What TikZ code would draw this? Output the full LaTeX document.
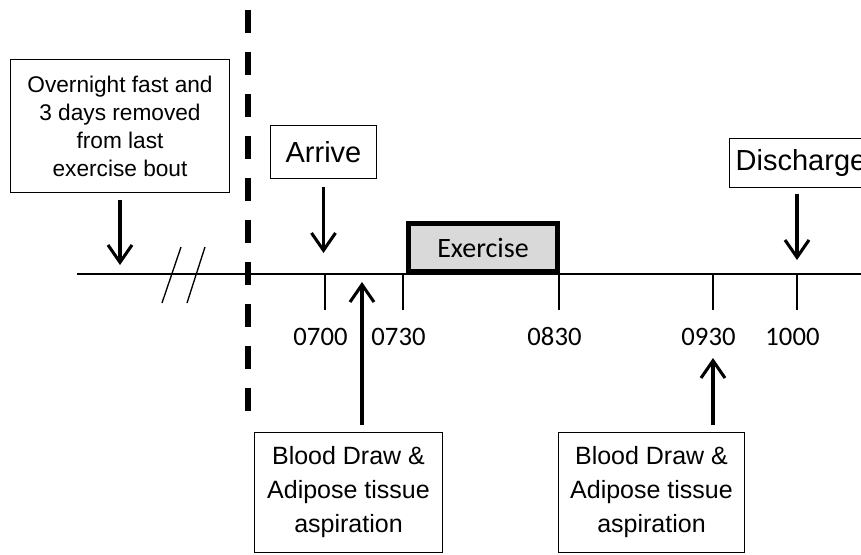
\documentclass[tikz,border=0pt]{standalone}
\usepackage{fontspec}
\setmainfont{Liberation Sans}
\newfontfamily\calfont{Carlito}
\usetikzlibrary{arrows.meta, positioning}

\begin{document}
\begin{tikzpicture}[x=0.75pt, y=-0.75pt,
		box/.style={draw, line width=1.1pt, align=center, inner sep=0pt},
		arr/.style={line width=2.3pt, -{Straight Barb[length=13pt, width=18pt]}},
		tick/.style={line width=1pt},
		timefont/.style={font=\calfont\fontsize{20}{24}\selectfont, anchor=base}]
	\useasboundingbox (0,0) rectangle (861,554);
	% time line with break
	\draw[line width=1.4pt] (77,274) coordinate (tl) -- (861,274) coordinate (tr);
	\draw[line width=1pt] (162,303) -- (181,247) (187,303) -- (205,247);
	\draw[line width=4.5pt, dash pattern=on 17.25pt off 14.25pt] (248,10) coordinate (dtop) -- (248,412) coordinate (dbot);
	\foreach \t/\x in {0700/325, 0730/403, 0830/559, 0930/713, 1000/797}
		{
			\draw[tick] (\x,274) coordinate (p\t) -- (\x,310);
			\node[timefont] (l\t) at (\x-4.5,345) {\t};
		}
	\coordinate (s1) at (362,274);
	% boxes
	\node[box, minimum width=164pt, minimum height=100pt,
		font=\fontsize{17}{21}\selectfont] (ovbox) at (120,126)
		{Overnight fast and\\3 days removed\\from last\\exercise bout};
	\node[box, minimum width=79.5pt, minimum height=39.75pt,
		font=\fontsize{21.75}{26}\selectfont] (arrive) at (323.5,152) {Arrive};
	\node[box, anchor=west, inner xsep=4.5pt, minimum height=36.75pt,
		font=\fontsize{21.75}{26}\selectfont] (discharge) at (729,163) {Discharge};
	\node[box, line width=3.6pt, fill=gray!30, minimum width=111.75pt, minimum height=36pt,
		font=\calfont\fontsize{21}{25}\selectfont] (exercise) at (483,247.5) {Exercise};
	\node[box, minimum width=141pt, minimum height=90pt,
		font=\fontsize{18.75}{25.5}\selectfont] (bloodA) at (348.5,492.5)
		{Blood Draw \&\\Adipose tissue\\aspiration};
	\node[box, minimum width=139.5pt, minimum height=90pt,
		font=\fontsize{18.75}{25.5}\selectfont] (bloodB) at (651.5,492.5)
		{Blood Draw \&\\Adipose tissue\\aspiration};
	% arrows
	\draw[arr, shorten <=5pt] (ovbox.south) -- ([yshift=6.75pt]ovbox.south |- tl);
	\draw[arr, shorten <=6pt] (arrive.south) -- ([yshift=15.75pt]arrive.south |- tl);
	\draw[arr, shorten <=4pt] (discharge.south -| p1000) -- ([yshift=10.5pt]p1000);
	\draw[arr, shorten <=5.25pt] (bloodA.north -| s1) -- ([yshift=-6pt]s1);
	\draw[arr, shorten <=5.25pt] (bloodB.north -| p0930) -- (p0930 |- 0,358);
\end{tikzpicture}
\end{document}
